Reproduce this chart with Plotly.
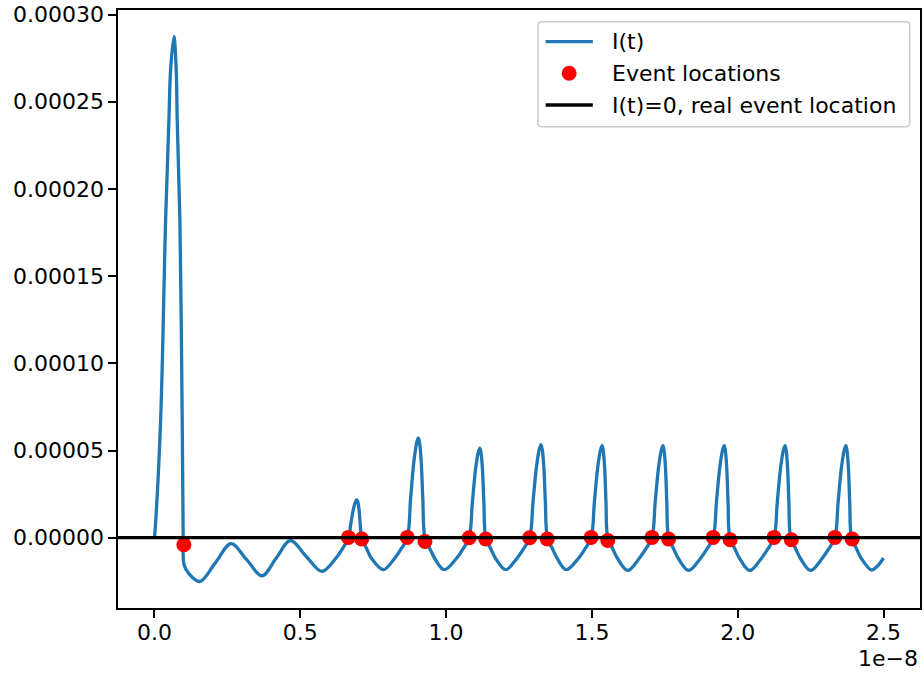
import numpy as np
import plotly.graph_objects as go

# time in units of 1e-8 s (axis shows offset "1e-8")
t_e8 = [
    0.0, 0.0024, 0.0212, 0.0383, 0.0496, 0.0554, 0.0667, 0.0746, 0.0780, 0.0872, 0.0951, 0.0985,
    0.1016, 0.1180, 0.1556, 0.2093, 0.2627, 0.3163, 0.3687, 0.4172, 0.4658, 0.5198, 0.5739,
    0.6207, 0.6447, 0.6652, 0.6737, 0.6823, 0.6895, 0.6936, 0.6970, 0.7013, 0.7052, 0.7107, 0.7278, 0.7449, 0.7849,
    0.8225, 0.8464, 0.8670, 0.8782, 0.8895, 0.8989, 0.9046, 0.9092, 0.9148, 0.9202, 0.9275, 0.9446, 0.9617, 0.9935,
    1.0345, 1.0585, 1.0790, 1.0900, 1.1009, 1.1101, 1.1156, 1.1197, 1.1248, 1.1296, 1.1361, 1.1532, 1.1703, 1.2045,
    1.2421, 1.2661, 1.2866, 1.2982, 1.3098, 1.3194, 1.3252, 1.3297, 1.3352, 1.3403, 1.3475, 1.3646, 1.3817, 1.4118,
    1.4528, 1.4767, 1.4973, 1.5085, 1.5198, 1.5292, 1.5349, 1.5388, 1.5437, 1.5482, 1.5544, 1.5715, 1.5886, 1.6228,
    1.6614, 1.6853, 1.7059, 1.7171, 1.7284, 1.7378, 1.7435, 1.7474, 1.7523, 1.7568, 1.7630, 1.7801, 1.7972, 1.8314,
    1.8714, 1.8953, 1.9159, 1.9271, 1.9384, 1.9478, 1.9535, 1.9574, 1.9623, 1.9668, 1.9730, 1.9901, 2.0072, 2.0414,
    2.0800, 2.1039, 2.1245, 2.1357, 2.1470, 2.1564, 2.1621, 2.1660, 2.1709, 2.1754, 2.1816, 2.1987, 2.2158, 2.2500,
    2.2886, 2.3125, 2.3331, 2.3443, 2.3556, 2.3650, 2.3707, 2.3746, 2.3795, 2.3840, 2.3902, 2.4073, 2.4244, 2.4586,
    2.4778, 2.5000,
]

# current in units of 1e-5
current_e5 = [
    0.0, 0.459, 6.77, 18.23, 23.97, 26.83, 28.73, 26.83, 23.97, 18.23, 6.77, 0.0,
    -1.55, -2.06, -2.51, -1.43, -0.34, -1.26, -2.18, -1.18, -0.17, -1.06, -1.93,
    -1.204, -0.631, 0.0, 0.849, 1.657, 2.070, 2.179, 2.070, 1.657, 0.849, 0.0, -0.631, -1.204, -1.835,
    -1.204, -0.631, 0.0, 2.230, 4.346, 5.431, 5.717, 5.431, 4.346, 2.230, 0.0, -0.631, -1.204, -1.835,
    -1.204, -0.631, 0.0, 2.006, 3.909, 4.886, 5.143, 4.886, 3.909, 2.006, 0.0, -0.631, -1.204, -1.835,
    -1.204, -0.631, 0.0, 2.080, 4.053, 5.066, 5.333, 5.066, 4.053, 2.080, 0.0, -0.631, -1.204, -1.835,
    -1.204, -0.631, 0.0, 2.058, 4.009, 5.011, 5.275, 5.011, 4.009, 2.058, 0.0, -0.631, -1.204, -1.875,
    -1.204, -0.631, 0.0, 2.058, 4.009, 5.011, 5.275, 5.011, 4.009, 2.058, 0.0, -0.631, -1.204, -1.875,
    -1.204, -0.631, 0.0, 2.058, 4.009, 5.011, 5.275, 5.011, 4.009, 2.058, 0.0, -0.631, -1.204, -1.875,
    -1.204, -0.631, 0.0, 2.058, 4.009, 5.011, 5.275, 5.011, 4.009, 2.058, 0.0, -0.631, -1.204, -1.875,
    -1.204, -0.631, 0.0, 2.058, 4.009, 5.011, 5.275, 5.011, 4.009, 2.058, 0.0, -0.631, -1.204, -1.850,
    -1.650, -1.164,
]

event_t_e8 = [0.1009, 0.6652, 0.7107, 0.8670, 0.9275, 1.0790, 1.1361, 1.2866, 1.3468, 1.4973,
              1.5544, 1.7059, 1.7630, 1.9159, 1.9740, 2.1245, 2.1837, 2.3331, 2.3923]
event_current_e5 = [-0.401, 0.017, -0.075, 0.017, -0.212, 0.0, -0.075, 0.0, -0.075, 0.017,
                    -0.155, 0.017, -0.075, 0.017, -0.115, 0.017, -0.115, 0.017, -0.075]

x_ticks = [0.0, 0.5, 1.0, 1.5, 2.0, 2.5]
y_ticks = [0.0, 0.00005, 0.00010, 0.00015, 0.00020, 0.00025, 0.00030]

legend_labels = ["I(t)", "Event locations", "I(t)=0, real event location"]

I_vals = np.array(current_e5) * 1e-5
ev_vals = np.array(event_current_e5) * 1e-5

FONT = "DejaVu Sans"
BLUE = "#1f77b4"
W, H = 924, 675
ML, MR, MT, MB = 118, 2, 10, 67
PW, PH = W - ML - MR, H - MT - MB


def px(xp):
    return (xp - ML) / PW


def py(yp):
    return (H - MB - yp) / PH


fig = go.Figure()
fig.add_trace(go.Scatter(
    x=t_e8, y=I_vals, mode="lines", name=legend_labels[0],
    line=dict(color=BLUE, width=3.3, shape="spline", smoothing=1.0),
))
fig.add_trace(go.Scatter(
    x=event_t_e8, y=ev_vals, mode="markers", name=legend_labels[1],
    marker=dict(color="red", size=15, line=dict(width=0)),
))
fig.add_hline(y=0, line=dict(color="black", width=3.3), layer="above")

# legend drawn in matplotlib style
bx0, bx1, by0, by1 = px(539), px(911.7), py(126.7), py(21.7)
rx, ry = 4 / PW, 4 / PH
box_path = (f"M{bx0+rx},{by0} L{bx1-rx},{by0} Q{bx1},{by0} {bx1},{by0+ry} "
            f"L{bx1},{by1-ry} Q{bx1},{by1} {bx1-rx},{by1} L{bx0+rx},{by1} "
            f"Q{bx0},{by1} {bx0},{by1-ry} L{bx0},{by0+ry} Q{bx0},{by0} {bx0+rx},{by0} Z")
fig.add_shape(type="path", path=box_path, xref="paper", yref="paper", layer="above",
              fillcolor="rgba(255,255,255,0.8)", line=dict(color="#cccccc", width=1.6))
rows = [py(41.7), py(73.3), py(105.0)]
lx0, lx1, lxc = px(546.7), px(594.0), px(570.3)
fig.add_shape(type="line", xref="paper", yref="paper", x0=lx0, x1=lx1, y0=rows[0], y1=rows[0],
              line=dict(color=BLUE, width=3.3), layer="above")
mr_x, mr_y = 7.5 / PW, 7.5 / PH
fig.add_shape(type="circle", xref="paper", yref="paper", x0=lxc - mr_x, x1=lxc + mr_x,
              y0=rows[1] - mr_y, y1=rows[1] + mr_y, fillcolor="red", line=dict(width=0),
              layer="above")
fig.add_shape(type="line", xref="paper", yref="paper", x0=lx0, x1=lx1, y0=rows[2], y1=rows[2],
              line=dict(color="black", width=3.3), layer="above")

annotations = []
for lab, ry_ in zip(legend_labels, rows):
    annotations.append(dict(
        text=lab, xref="paper", yref="paper", x=px(611.7), y=ry_, xanchor="left",
        yanchor="middle", showarrow=False, font=dict(family=FONT, size=22, color="black"),
    ))
annotations.append(dict(
    text="1e\u22128", xref="paper", yref="paper", x=1.0, y=py(658),
    xanchor="right", yanchor="middle", showarrow=False,
    font=dict(family=FONT, size=22, color="black"),
))

fig.update_layout(
    width=W, height=H,
    margin=dict(l=ML, r=MR, t=MT, b=MB),
    paper_bgcolor="white", plot_bgcolor="white",
    font=dict(family=FONT, size=22, color="black"),
    showlegend=False,
    annotations=annotations,
)
fig.update_xaxes(
    range=[-0.125, 2.625], tickvals=x_ticks, ticktext=[f"{v:.1f}" for v in x_ticks],
    showgrid=False, zeroline=False, showline=True, mirror=True,
    linecolor="black", linewidth=1.8, ticks="outside", ticklen=7.8, tickwidth=1.8,
    tickcolor="black", ticklabelstandoff=-4,
)
fig.update_yaxes(
    range=[-0.0000403, 0.0003026], tickvals=y_ticks, ticktext=[f"{v:.5f}" for v in y_ticks],
    showgrid=False, zeroline=False, showline=True, mirror=True,
    linecolor="black", linewidth=1.8, ticks="outside", ticklen=7.8, tickwidth=1.8,
    tickcolor="black",
)

fig.write_html("out.html", config={"displayModeBar": False},
               post_script="document.body.style.margin='0px';document.body.style.overflow='hidden';")
